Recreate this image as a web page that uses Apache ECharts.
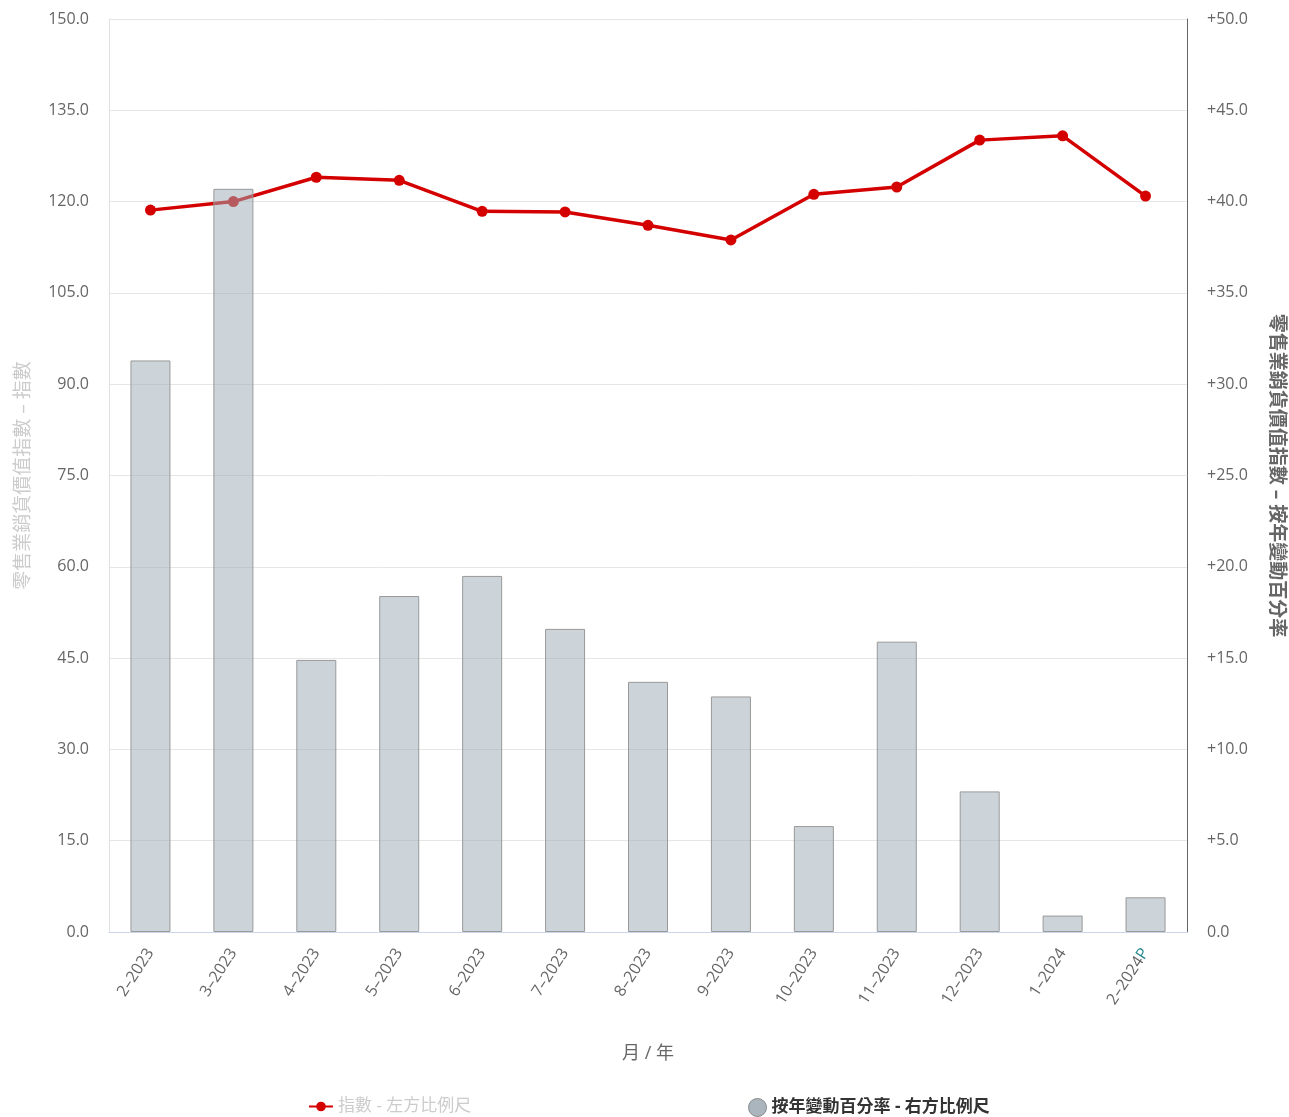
<!DOCTYPE html>
<html><head><meta charset="utf-8">
<script src="https://cdn.jsdelivr.net/npm/echarts@6/dist/echarts.min.js"></script>
<style>html,body{margin:0;padding:0;background:#fff;overflow:hidden}#c{width:1289px;height:1117px}</style>
</head><body><div id="c"></div>
<script>
const categories = ['2–2023','3–2023','4–2023','5–2023','6–2023','7–2023','8–2023','9–2023','10–2023','11–2023','12–2023','1–2024','2–2024P'];
const indexValues = [118.6,120.0,124.0,123.5,118.4,118.3,116.1,113.7,121.2,122.4,130.1,130.8,120.9];
const yoyValues = [31.3,40.7,14.9,18.4,19.5,16.6,13.7,12.9,5.8,15.9,7.7,0.9,1.9];
const indexName = '指數 - 左方比例尺';
const yoyName = '按年變動百分率 - 右方比例尺';
const font = "'Open Sans','Noto Sans CJK TC',sans-serif";

const chart = echarts.init(document.getElementById('c'));
chart.setOption({
  animation:false,
  textStyle:{fontFamily:font},
  grid:{left:109,right:102,top:19,bottom:185,containLabel:false,outerBoundsMode:'none'},
  legend:[
    {data:[indexName],left:303,top:1093,itemWidth:24,itemHeight:12,
     textStyle:{color:'#cccccc',fontSize:17,fontFamily:font}},
    {data:[{name:yoyName,icon:'circle',itemStyle:{color:'#aab5bd',borderColor:'#888',borderWidth:1}}],left:743,top:1093,itemWidth:18,itemHeight:18,itemGap:8,
     textStyle:{color:'#333333',fontSize:17,fontWeight:'bold',fontFamily:font}}
  ],
  xAxis:{
    type:'category',data:categories,
    name:'月 / 年',nameLocation:'middle',nameGap:113,
    nameTextStyle:{color:'#666',fontSize:18,fontWeight:'normal',fontFamily:font},
    axisLine:{lineStyle:{color:'#ccd6eb',width:1}},
    axisTick:{show:false},
    axisLabel:{rotate:57,color:'#666',fontSize:16,margin:18,interval:0,
      formatter:function(v){ if(v.endsWith('P')) return v.slice(0,-1)+'{p|P}'; return v;},
      rich:{p:{color:'#2a8a8f',fontSize:16}}}
  },
  yAxis:[
    {type:'value',min:0,max:150,interval:15,
     name:'零售業銷貨價值指數 – 指數',nameLocation:'middle',nameGap:76,nameRotate:90,
     nameTextStyle:{color:'#cccccc',fontSize:19,fontWeight:'normal',fontFamily:font},
     axisLine:{show:true,lineStyle:{color:'#e0e0e0'}},axisTick:{show:false},
     splitLine:{lineStyle:{color:'#e6e6e6'}},
     axisLabel:{color:'#666',fontSize:16,margin:20,formatter:v=>v.toFixed(1)}},
    {type:'value',min:0,max:50,interval:5,position:'right',
     name:'零售業銷貨價值指數 – 按年變動百分率',nameLocation:'middle',nameGap:80,nameRotate:-90,
     nameTextStyle:{color:'#666',fontSize:19,fontWeight:'bold',fontFamily:font},
     axisLine:{show:true,lineStyle:{color:'#666',width:1}},axisTick:{show:false},
     splitLine:{show:false},
     axisLabel:{color:'#666',fontSize:16,margin:20,formatter:v=>v===0?'0.0':'+'+v.toFixed(1)}}
  ],
  series:[
    {name:indexName,type:'line',yAxisIndex:0,data:indexValues,z:2,
     symbol:'circle',symbolSize:11,
     lineStyle:{color:'#d40000',width:3.5},itemStyle:{color:'#d40000'}},
    {name:yoyName,type:'bar',yAxisIndex:1,data:yoyValues,z:3,barWidth:40,
     itemStyle:{color:'rgba(158,172,182,0.52)',borderColor:'#999',borderWidth:1}}
  ]
});
</script></body></html>
